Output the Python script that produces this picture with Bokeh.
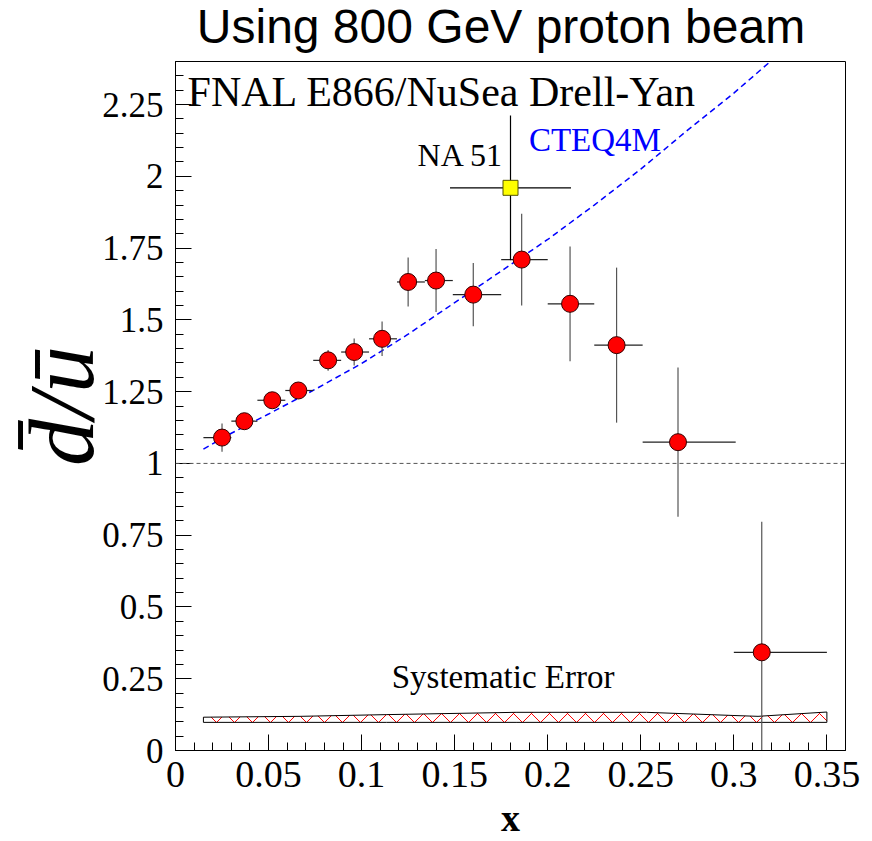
import numpy as np
from bokeh.plotting import figure
from bokeh.layouts import column
from bokeh.models import FixedTicker, Span, Label, Range1d, Div
from bokeh.embed import file_html
from bokeh.resources import INLINE

# ---- data ----
x_e866 = [0.025, 0.037, 0.052, 0.066, 0.082, 0.096, 0.111, 0.125, 0.140, 0.160, 0.186, 0.212, 0.237, 0.270, 0.315]
y_e866 = [1.090, 1.147, 1.220, 1.254, 1.359, 1.388, 1.434, 1.632, 1.637, 1.588, 1.710, 1.556, 1.412, 1.074, 0.342]
yerr_e866 = [0.049, 0.028, 0.025, 0.028, 0.036, 0.047, 0.060, 0.085, 0.110, 0.110, 0.160, 0.200, 0.270, 0.260, 0.455]
xlo_e866 = [0.015, 0.030, 0.044, 0.059, 0.074, 0.089, 0.104, 0.119, 0.134, 0.149, 0.175, 0.200, 0.225, 0.251, 0.300]
xhi_e866 = [0.030, 0.044, 0.059, 0.074, 0.089, 0.104, 0.119, 0.134, 0.149, 0.175, 0.200, 0.225, 0.251, 0.301, 0.350]

x_na51 = [0.180]
y_na51 = [1.960]
yerr_na51 = [0.252]
xlo_na51 = [0.1475]
xhi_na51 = [0.2125]

cteq_x = [0.015, 0.03, 0.05, 0.075, 0.1, 0.125, 0.15, 0.175, 0.2, 0.225, 0.25, 0.275, 0.3, 0.325]
cteq_y = [1.05, 1.105, 1.172, 1.258, 1.348, 1.45, 1.56, 1.67, 1.78, 1.90, 2.025, 2.16, 2.29, 2.43]

sys_x = [0.015, 0.067, 0.1135, 0.183, 0.253, 0.2995, 0.313, 0.35]
sys_hi = [0.116, 0.119, 0.125, 0.133, 0.133, 0.122, 0.119, 0.134]
sys_lo = [0.098, 0.098, 0.098, 0.098, 0.098, 0.098, 0.098, 0.098]

x_ticks = [0, 0.05, 0.1, 0.15, 0.2, 0.25, 0.3, 0.35]
x_tick_labels = ["0", "0.05", "0.1", "0.15", "0.2", "0.25", "0.3", "0.35"]
y_ticks = [0, 0.25, 0.5, 0.75, 1, 1.25, 1.5, 1.75, 2, 2.25]
y_tick_labels = ["0", "0.25", "0.5", "0.75", "1", "1.25", "1.5", "1.75", "2", "2.25"]

TITLE = "Using 800 GeV proton beam"
SERIF = "Liberation Serif"

title_div = Div(text=TITLE, width=742, height=56, margin=(0, 0, 0, 130),
                styles={"font-family": "Liberation Sans", "font-size": "48px", "line-height": "54px",
                        "text-align": "center", "white-space": "nowrap",
                        "color": "black"})

p = figure(width=872, height=785, output_backend="svg", toolbar_location=None,
           x_range=Range1d(0, 0.36), y_range=Range1d(0, 2.4), margin=0,
           min_border_left=175, min_border_right=27, min_border_top=5, min_border_bottom=91)
p.background_fill_color = "white"
p.border_fill_color = "white"
p.outline_line_color = "black"
p.outline_line_width = 1
p.xgrid.visible = False
p.ygrid.visible = False

# axes
p.xaxis.ticker = FixedTicker(ticks=x_ticks, minor_ticks=list(np.round(np.arange(0, 0.3601, 0.01), 3)))
p.yaxis.ticker = FixedTicker(ticks=y_ticks, minor_ticks=list(np.round(np.arange(0, 2.401, 0.05), 3)))
p.xaxis.major_label_overrides = {t: s for t, s in zip(x_ticks, x_tick_labels)}
p.yaxis.major_label_overrides = {t: s for t, s in zip(y_ticks, y_tick_labels)}
for ax in (p.xaxis[0], p.yaxis[0]):
    ax.axis_line_color = "black"
    ax.major_tick_in = 16
    ax.major_tick_out = 0
    ax.minor_tick_in = 8
    ax.minor_tick_out = 0
    ax.major_tick_line_color = "black"
    ax.minor_tick_line_color = "black"
    ax.major_label_text_font = SERIF
    ax.major_label_text_color = "black"
p.xaxis.major_label_text_font_size = "38px"
p.yaxis.major_label_text_font_size = "35px"
p.xaxis.major_label_standoff = 11
p.yaxis.major_label_standoff = 12

p.xaxis.axis_label = "x"
p.xaxis.axis_label_text_font = SERIF
p.xaxis.axis_label_text_font_size = "38px"
p.xaxis.axis_label_text_font_style = "bold"
p.xaxis.axis_label_standoff = 7
p.xaxis.axis_label_text_color = "black"

p.yaxis.axis_label = "d\u0304/u\u0304"
p.yaxis.axis_label_text_font = SERIF
p.yaxis.axis_label_text_font_size = "94px"
p.yaxis.axis_label_text_font_style = "italic"
p.yaxis.axis_label_standoff = -14
p.yaxis.axis_label_text_color = "black"

# reference line at 1
p.add_layout(Span(location=1, dimension="width", line_color="#555555", line_dash="4 3", line_width=1))

# systematic error band
p.patch(x=sys_x + sys_x[::-1], y=sys_hi + sys_lo[::-1], fill_color="white",
        hatch_pattern="diagonal_cross", hatch_color="red", hatch_scale=18, hatch_weight=1,
        line_color="black", line_width=1)

# CTEQ4M curve
p.line(cteq_x, cteq_y, line_color="blue", line_dash="6 4", line_width=1.5)

# E866 error bars
ye = np.array(y_e866); ee = np.array(yerr_e866)
p.segment(x0=x_e866, y0=list(np.clip(ye - ee, 0, None)), x1=x_e866, y1=list(ye + ee), line_color="#555555", line_width=1.2)
p.segment(x0=xlo_e866, y0=y_e866, x1=xhi_e866, y1=y_e866, line_color="#222222", line_width=1.2)

# NA51 error bars
yn = np.array(y_na51); en = np.array(yerr_na51)
p.segment(x0=x_na51, y0=list(yn - en), x1=x_na51, y1=list(yn + en), line_color="black", line_width=1.2)
p.segment(x0=xlo_na51, y0=y_na51, x1=xhi_na51, y1=y_na51, line_color="black", line_width=1.2)

# markers
p.scatter(x_e866, y_e866, marker="circle", size=17, fill_color="red", line_color="#330000", line_width=1)
p.scatter(x_na51, y_na51, marker="square", size=15, fill_color="yellow", line_color="#555500", line_width=1)

# texts
p.add_layout(Label(x=0.0065, y=2.212, text="FNAL E866/NuSea Drell-Yan", text_font=SERIF,
                   text_font_size="42px", text_color="black"))
p.add_layout(Label(x=0.1764, y=2.010, text="NA 51", text_font=SERIF, text_font_size="32px",
                   text_color="black", text_align="right"))
p.add_layout(Label(x=0.1899, y=2.063, text="CTEQ4M", text_font=SERIF, text_font_size="33px",
                   text_color="blue"))
p.add_layout(Label(x=0.1162, y=0.195, text="Systematic Error", text_font=SERIF, text_font_size="33px",
                   text_color="black"))

layout = column(title_div, p, spacing=0, margin=0)
open("out.html", "w").write(file_html(layout, INLINE))
